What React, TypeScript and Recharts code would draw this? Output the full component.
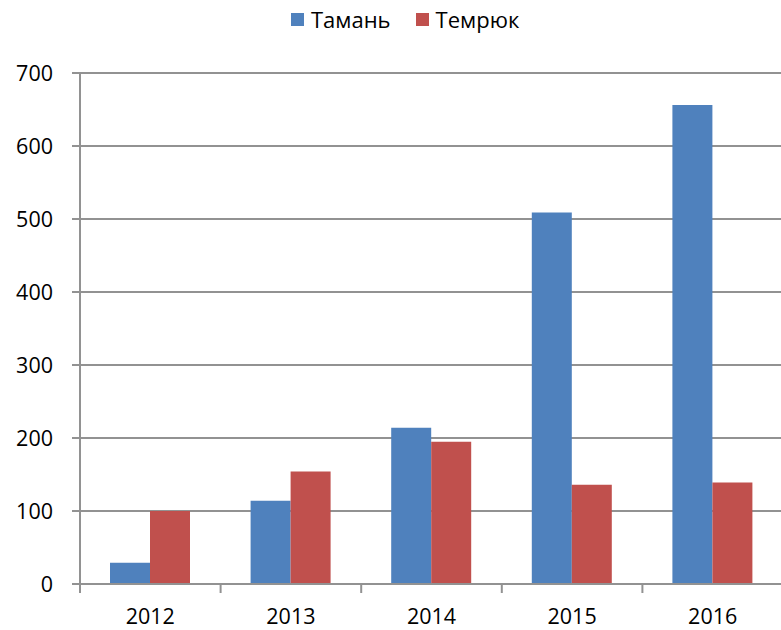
import React from "react";
import { BarChart, Bar, XAxis, YAxis, CartesianGrid, Legend } from "recharts";

const years = ["2012", "2013", "2014", "2015", "2016"];
const taman = [29, 114, 214, 509, 656];
const temryuk = [100, 154, 195, 136, 139];
const yTicks = [0, 100, 200, 300, 400, 500, 600, 700];

const seriesNames = { taman: "Тамань", temryuk: "Темрюк" };
const colors = { taman: "#4f81bd", temryuk: "#c0504d" };

const data = years.map((y, i) => ({ year: y, taman: taman[i], temryuk: temryuk[i] }));

const FONT = "'Open Sans', sans-serif";
const GRID = "#929292";

const XTick = (props: any) => {
  const { x, y, payload, index, visibleTicksCount } = props;
  const half = payload && payload.offset ? payload.offset : 70.3;
  const axisY = y - 25;
  return (
    <g>
      <line x1={x - half} x2={x - half} y1={axisY} y2={axisY + 9} stroke={GRID} strokeWidth={2} />
      {index === (visibleTicksCount ?? years.length) - 1 && (
        <line x1={x + half} x2={x + half} y1={axisY} y2={axisY + 9} stroke={GRID} strokeWidth={2} />
      )}
      <text x={x} y={y} dy="0.71em" textAnchor="middle" fill="#000" fontSize={21.5} fontFamily={FONT}>
        {payload.value}
      </text>
    </g>
  );
};

const LegendContent = (props: any) => {
  const { payload } = props;
  return (
    <div style={{ height: 0, overflow: "visible" }}>
      <div style={{ display: "flex", alignItems: "center", fontFamily: FONT, fontSize: 22, color: "#000", lineHeight: "28px" }}>
        {(payload || []).map((p: any, i: number) => (
          <div key={i} style={{ display: "flex", alignItems: "center", marginRight: i === 0 ? 25 : 0 }}>
            <span style={{ display: "inline-block", width: 13, height: 13, background: p.color, marginRight: 7 }} />
            <span>{p.value}</span>
          </div>
        ))}
      </div>
    </div>
  );
};

export default function App() {
  return (
    <div style={{ position: "absolute", left: 0, top: 0, width: 781, height: 630, overflow: "hidden", background: "#fff" }}>
      <BarChart
        width={783}
        height={630}
        data={data}
        margin={{ top: 73, right: 0, left: 0, bottom: 0 }}
        barCategoryGap={30}
        barGap={0}
      >
        <CartesianGrid vertical={false} stroke={GRID} strokeWidth={2} />
        <XAxis
          dataKey="year"
          height={46}
          axisLine={{ stroke: GRID, strokeWidth: 2 }}
          tickLine={false}
          tickSize={8}
          tickMargin={17}
          tick={<XTick />}
          interval={0}
        />
        <YAxis
          width={80}
          domain={[0, 700]}
          ticks={yTicks}
          interval={0}
          axisLine={{ stroke: GRID, strokeWidth: 2 }}
          tickLine={{ stroke: GRID, strokeWidth: 2 }}
          tickSize={8}
          tickMargin={19}
          tick={{ fill: "#000", fontSize: 21.5, fontFamily: FONT }}
        />
        <Legend
          verticalAlign="top"
          align="left"
          content={<LegendContent />}
          wrapperStyle={{ top: 5, left: 291, width: "auto" }}
        />
        <Bar dataKey="taman" name={seriesNames.taman} fill={colors.taman} isAnimationActive={false} />
        <Bar dataKey="temryuk" name={seriesNames.temryuk} fill={colors.temryuk} isAnimationActive={false} />
      </BarChart>
    </div>
  );
}
